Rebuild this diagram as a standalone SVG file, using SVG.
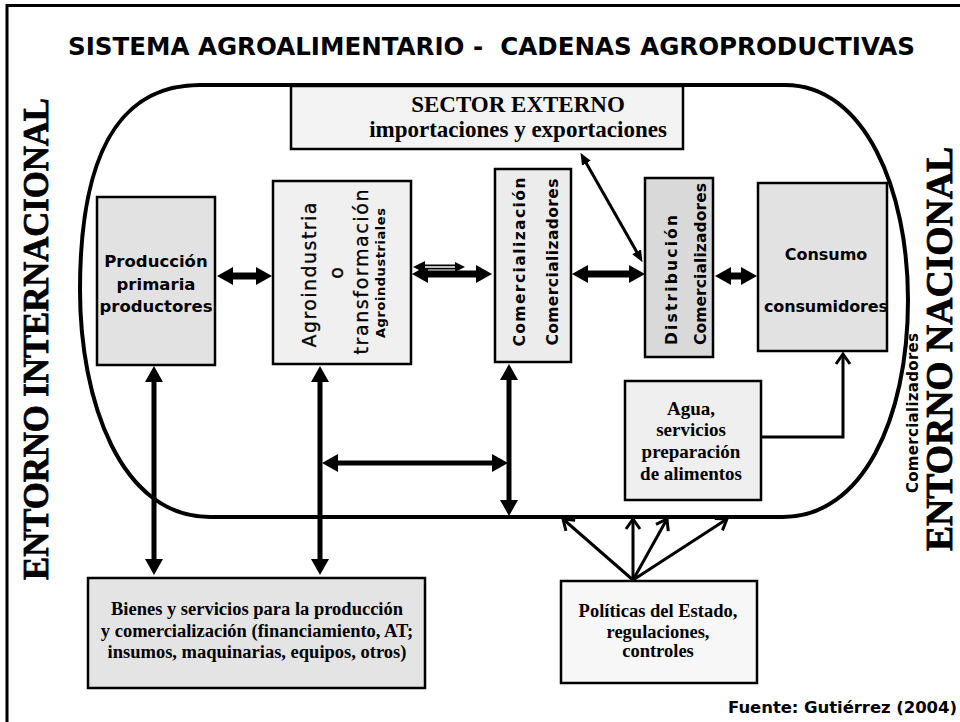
<svg xmlns="http://www.w3.org/2000/svg" width="960" height="722" viewBox="0 0 960 722">
<defs>
<style>
.sb{font-family:"DejaVu Sans",Verdana,sans-serif;font-weight:bold;fill:#000}
.sn{font-family:"DejaVu Sans",Verdana,sans-serif;font-weight:normal;fill:#000}
.sr{font-family:"Liberation Serif","Times New Roman",serif;font-weight:bold;fill:#000}
.side{stroke:#000;stroke-width:0.8}
.bx{stroke:#000;stroke-width:2.5}
.thick{stroke:#000;fill:none}
.thin{stroke:#000;stroke-width:3;fill:none}
</style>
<marker id="ah" markerUnits="userSpaceOnUse" markerWidth="16" markerHeight="18" refX="1" refY="9" orient="auto-start-reverse"><path d="M0,0 L16,9 L0,18 Z" fill="#000"/></marker>
<marker id="as" markerUnits="userSpaceOnUse" markerWidth="12" markerHeight="10" refX="1" refY="5" orient="auto-start-reverse"><path d="M0,0 L12,5 L0,10 Z" fill="#000"/></marker>
<marker id="ao" markerUnits="userSpaceOnUse" markerWidth="12" markerHeight="14" refX="10" refY="7" orient="auto" overflow="visible"><path d="M0,0 L10,7 L0,14" fill="none" stroke="#000" stroke-width="3"/></marker>
</defs>
<rect width="960" height="722" fill="#fff"/>
<path d="M7,730 L7,5.5 L965,5.5" fill="none" stroke="#000" stroke-width="3"/>
<text class="sb" x="68" y="55" font-size="24" textLength="847" lengthAdjust="spacingAndGlyphs" style="white-space:pre">SISTEMA AGROALIMENTARIO -  CADENAS AGROPRODUCTIVAS</text>
<path id="enclosure" d="M210,517 C120,517 80,400 80,290 C80,170 110,85 200,85 L785,85 C865,85 908,190 908,300 C908,420 862,517 783,517 Z" fill="none" stroke="#000" stroke-width="4"/>

<g id="sector-externo">
<rect class="bx" x="291" y="86" width="392" height="63" fill="#f3f3f3"/>
<text class="sr" x="518" y="112" font-size="23" text-anchor="middle">SECTOR EXTERNO</text>
<text class="sr" x="518" y="137" font-size="23" text-anchor="middle">importaciones y exportaciones</text>
</g>
<g id="produccion">
<rect class="bx" x="97" y="197" width="118" height="168" fill="#e2e2e2"/>
<text class="sb" x="156" y="267" font-size="16.5" text-anchor="middle">Producción</text>
<text class="sb" x="156" y="290" font-size="16.5" text-anchor="middle">primaria</text>
<text class="sb" x="156" y="312" font-size="16.5" text-anchor="middle" textLength="113">productores</text>
</g>
<g id="agroindustria">
<rect class="bx" x="273" y="181" width="138" height="183" fill="#f0f0f0"/>
<text class="sn" x="316" y="275" font-size="19" text-anchor="middle" textLength="145" stroke="#000" stroke-width="0.3" transform="rotate(-90 316 275)">Agroindustria</text>
<text class="sn" x="343" y="273" font-size="19" text-anchor="middle" stroke="#000" stroke-width="0.3" transform="rotate(-90 343 273)">o</text>
<text class="sn" x="368" y="272" font-size="19" text-anchor="middle" textLength="165" stroke="#000" stroke-width="0.3" transform="rotate(-90 368 272)">transformación</text>
<text class="sb" x="385" y="273" font-size="13" text-anchor="middle" textLength="130" transform="rotate(-90 385 273)">Agroindustriales</text>
</g>
<g id="comercializacion">
<rect class="bx" x="495" y="169" width="76" height="193" fill="#ececec"/>
<text class="sb" x="525" y="262" font-size="15.5" text-anchor="middle" textLength="169" transform="rotate(-90 525 262)">Comercialización</text>
<text class="sb" x="558" y="262" font-size="15.5" text-anchor="middle" textLength="167" transform="rotate(-90 558 262)">Comercializadores</text>
</g>
<g id="distribucion">
<rect class="bx" x="645" y="178" width="68" height="179" fill="#d9d9d9"/>
<text class="sb" x="677" y="280" font-size="15.5" text-anchor="middle" textLength="130" transform="rotate(-90 677 280)">Distribución</text>
<text class="sb" x="706" y="264" font-size="15.5" text-anchor="middle" textLength="162" transform="rotate(-90 706 264)">Comercializadores</text>
</g>
<g id="consumo">
<rect class="bx" x="758" y="183" width="129" height="168" fill="#e2e2e2"/>
<text class="sb" x="826" y="260" font-size="16" text-anchor="middle">Consumo</text>
<text class="sb" x="826" y="312" font-size="16" text-anchor="middle" textLength="124">consumidores</text>
</g>
<g id="agua">
<rect class="bx" x="625" y="381" width="136" height="119" fill="#efefef"/>
<text class="sr" x="691" y="415" font-size="19" text-anchor="middle">Agua,</text>
<text class="sr" x="691" y="436" font-size="19" text-anchor="middle">servicios</text>
<text class="sr" x="691" y="458" font-size="19" text-anchor="middle">preparación</text>
<text class="sr" x="691" y="480" font-size="19" text-anchor="middle">de alimentos</text>
</g>
<g id="bienes">
<rect class="bx" x="88" y="578" width="337" height="110" fill="#e4e4e4"/>
<text class="sr" x="257" y="615" font-size="18.5" text-anchor="middle">Bienes y servicios para la producción</text>
<text class="sr" x="257" y="637" font-size="18.5" text-anchor="middle">y comercialización (financiamiento, AT;</text>
<text class="sr" x="257" y="658" font-size="18.5" text-anchor="middle">insumos, maquinarias, equipos, otros)</text>
</g>
<g id="politicas">
<rect class="bx" x="561" y="581" width="196" height="102" fill="#f7f7f7"/>
<text class="sr" x="658" y="617" font-size="18.5" text-anchor="middle">Políticas del Estado,</text>
<text class="sr" x="658" y="638" font-size="18.5" text-anchor="middle">regulaciones,</text>
<text class="sr" x="658" y="657" font-size="18.5" text-anchor="middle">controles</text>
</g>

<g id="connectors">
<line class="thick" x1="232" y1="276" x2="257" y2="276" stroke-width="7" marker-start="url(#ah)" marker-end="url(#ah)"/>
<line class="thick" x1="427" y1="274" x2="477" y2="274" stroke-width="7" marker-start="url(#ah)" marker-end="url(#ah)"/>
<line x1="419" y1="267" x2="458" y2="267" stroke="#000" stroke-width="5"/>
<line x1="422" y1="267" x2="455" y2="267" stroke="#fff" stroke-width="1.5"/>
<polygon points="455,262 465,267 455,272" fill="#000"/>
<polygon points="425,261 413,267 425,273" fill="#000"/>
<line class="thick" x1="587" y1="274" x2="630" y2="274" stroke-width="7" marker-start="url(#ah)" marker-end="url(#ah)"/>
<line class="thick" x1="730" y1="276" x2="742" y2="276" stroke-width="7" marker-start="url(#ah)" marker-end="url(#ah)"/>
<line class="thin" x1="585.9" y1="162.4" x2="637.1" y2="252.6" marker-start="url(#as)" marker-end="url(#as)"/>
<line class="thick" x1="154" y1="381" x2="154" y2="560" stroke-width="5" marker-start="url(#ah)" marker-end="url(#ah)"/>
<line class="thick" x1="320" y1="381" x2="320" y2="560" stroke-width="5" marker-start="url(#ah)" marker-end="url(#ah)"/>
<line class="thick" x1="509" y1="379" x2="509" y2="501" stroke-width="5" marker-start="url(#ah)" marker-end="url(#ah)"/>
<line class="thick" x1="337" y1="463" x2="493" y2="463" stroke-width="5" marker-start="url(#ah)" marker-end="url(#ah)"/>
<polyline class="thin" points="762,437 843,437 843,354" stroke-width="3.5" marker-end="url(#ao)"/>
<line class="thin" x1="633" y1="580" x2="563" y2="519" marker-end="url(#ao)"/>
<line class="thin" x1="633" y1="580" x2="633" y2="519" marker-end="url(#ao)"/>
<line class="thin" x1="633" y1="580" x2="667" y2="519" marker-end="url(#ao)"/>
<line class="thin" x1="633" y1="580" x2="727" y2="519" marker-end="url(#ao)"/>
</g>

<text class="sr side" x="48" y="339" font-size="36" text-anchor="middle" textLength="482" lengthAdjust="spacingAndGlyphs" transform="rotate(-90 48 339)">ENTORNO INTERNACIONAL</text>
<text class="sr side" x="952" y="349" font-size="38" text-anchor="middle" textLength="404" lengthAdjust="spacingAndGlyphs" transform="rotate(-90 952 349)">ENTORNO NACIONAL</text>
<text class="sb" x="918" y="413" font-size="15" text-anchor="middle" textLength="160" transform="rotate(-90 918 413)">Comercializadores</text>
<text class="sb" x="957" y="713" font-size="16.5" text-anchor="end" textLength="229">Fuente: Gutiérrez (2004)</text>
</svg>
